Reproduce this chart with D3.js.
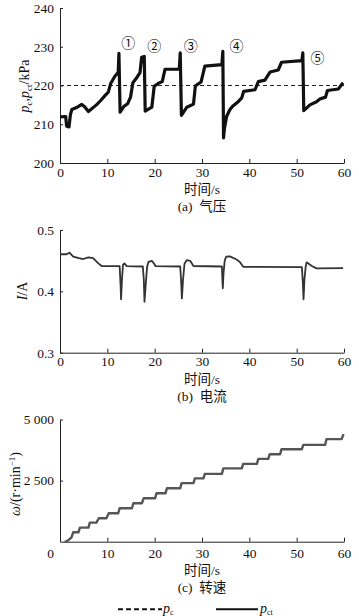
<!DOCTYPE html>
<html><head><meta charset="utf-8">
<script src="https://cdn.jsdelivr.net/npm/d3@7"></script>
<style>
body{margin:0;background:#fff}
svg text{font-family:"Liberation Serif","Noto Sans CJK SC",serif;fill:#111}
.axis path,.axis line{stroke:#222;stroke-width:1}
</style></head><body>
<svg id="chart" width="359" height="616"></svg>
<script>
// ---------------- data ----------------
const timeTicks = [0, 10, 20, 30, 40, 50, 60];
const pressureTicks = [200, 210, 220, 230, 240];
const currentTicks = [0.3, 0.4, 0.5];
const speedTicks = [2500, 5000];
const pressureRef = 220; // p_c set point (dashed)

// p_ct (kPa) vs time (s)
const pressure = [
  [0,211.9],[1.2,212],[1.4,209.5],[1.9,209.3],[2.2,212.5],[2.5,213.8],[3.5,214.3],[4.6,215.1],
  [5.2,214.5],[6.0,213.3],[6.7,214],[7.7,215],[8.5,216],[9.5,217.4],[10.2,218.3],[10.7,220.5],
  [11.6,222.4],[12.3,223.4],[12.45,228.3],[12.7,213.1],[13.5,214.6],[14.3,215.3],[14.9,217.0],
  [15.4,220.7],[16.2,222],[16.9,223.3],[17.25,227.3],[17.8,227.5],[18.0,213.4],[19.4,214.4],
  [19.9,219.8],[20.8,220.6],[21.6,221],[22.2,224.2],[25.2,224.2],[25.4,228.4],[25.65,212.3],
  [26.8,214.4],[28.2,215.2],[28.6,219.9],[29.8,220.9],[30.6,225],[34.2,225.4],[34.4,228.8],
  [34.55,206.5],[34.75,209],[35.2,212],[35.9,213.8],[36.6,214.8],[37.7,215.9],[38.4,216.8],
  [38.8,218.5],[41.2,218.9],[41.9,221],[43.3,221.4],[44.4,223.5],[46.1,224],[46.8,226],
  [51.1,226.4],[51.3,228.4],[51.5,213.5],[52.8,215],[54.2,215.8],[54.9,216.5],[56.1,217],
  [56.5,218.7],[58.8,219.1],[59.8,220.7]
];

// I (A) vs time (s)
const current = [
  [0,0.4605],[1.4,0.4605],[2.0,0.463],[2.8,0.4565],[4.0,0.454],[4.9,0.4527],[6.0,0.4555],
  [7.0,0.454],[8.1,0.4456],[8.8,0.4413],[12.6,0.441],[12.8,0.41],[12.9,0.387],[13.1,0.42],
  [13.3,0.443],[13.6,0.4455],[14.1,0.441],[17.5,0.4405],[17.7,0.42],[17.85,0.383],[18.1,0.41],
  [18.4,0.44],[18.7,0.448],[19.4,0.4497],[19.9,0.445],[20.2,0.441],[25.4,0.4405],[25.6,0.415],
  [25.75,0.3886],[26.0,0.42],[26.3,0.445],[26.8,0.451],[27.5,0.4497],[28.2,0.4413],[34.2,0.4405],
  [34.3,0.42],[34.4,0.405],[34.55,0.43],[34.8,0.45],[35.1,0.4565],[35.9,0.457],[37.3,0.452],
  [38.0,0.448],[38.7,0.44],[51.1,0.4395],[51.3,0.415],[51.45,0.387],[51.65,0.42],[51.9,0.44],
  [52.1,0.4473],[53.2,0.4413],[54.2,0.4375],[59.8,0.438]
];

// speed (r/min) vs time (s)
const speed = [
  [1.0,0],[1.5,20],[2.4,170],[2.8,385],[3.9,385],[4.2,575],[6.0,575],[6.3,780],[7.7,780],
  [8.2,960],[9.8,960],[10.3,1165],[12.3,1165],[12.6,1370],[15.2,1370],[15.5,1575],[17.3,1575],
  [17.7,1780],[20.1,1780],[20.4,1985],[22.3,1985],[22.6,2190],[25.4,2190],[25.7,2395],
  [28.2,2395],[28.5,2590],[30.3,2590],[30.6,2775],[34.2,2775],[34.5,3000],[38.4,3000],
  [38.7,3185],[41.6,3185],[41.9,3390],[44.0,3390],[44.3,3580],[46.5,3580],[46.8,3785],
  [51.1,3785],[51.4,3960],[56.0,3960],[56.3,4195],[59.5,4195],[59.9,4400]
];

// circled event markers (time s, pressure kPa)
const markerLabels = ["①","②","③","④","⑤"];
const markerTimes = [14.4, 19.9, 27.6, 37.3, 54.4];
const markerValues = [231.1, 230.5, 230.5, 230.5, 227.4];

// ---------------- drawing ----------------
const svg = d3.select("#chart");
const x = d3.scaleLinear().domain([0, 60]).range([60, 344]);
const cx = 202;

function panel(y, yTicks, yFmt, xPad, opts) {
  const g = svg.append("g");
  const xa = g.append("g").attr("class","axis")
    .attr("transform", `translate(0,${y.range()[0]})`)
    .call(d3.axisBottom(x).tickValues(timeTicks).tickSizeInner(-4).tickSizeOuter(0).tickPadding(xPad));
  const ya = g.append("g").attr("class","axis")
    .attr("transform", `translate(60,0)`)
    .call(d3.axisLeft(y).tickValues(yTicks).tickFormat(yFmt).tickSizeInner(-3).tickSizeOuter(0).tickPadding(6));
  g.selectAll(".axis").attr("font-family", null);
  g.selectAll(".axis text").attr("font-size", 13.5).attr("fill", "#111")
    .style("font-family", '"Liberation Serif",serif');
  if (opts && opts.shiftZero) xa.selectAll(".tick").filter(d => d === 0).select("text").attr("dx", -10);
  return g;
}

function titles(yAxisBase, sub) {
  svg.append("text").attr("x", cx).attr("y", yAxisBase).attr("text-anchor","middle")
    .attr("font-size", 13.5).text("时间/s");
  svg.append("text").attr("x", cx).attr("y", yAxisBase + 17).attr("text-anchor","middle")
    .attr("font-size", 13.5).text(sub);
}

// (a) pressure
const yA = d3.scaleLinear().domain([200, 240]).range([163, 8]);
panel(yA, pressureTicks, d3.format("d"), 4.5);
svg.append("line").attr("x1", x(0)).attr("x2", x(60)).attr("y1", yA(pressureRef)).attr("y2", yA(pressureRef))
  .attr("stroke", "#222").attr("stroke-width", 1.2).attr("stroke-dasharray", "4,3");
svg.append("path").datum(pressure)
  .attr("d", d3.line().x(d => x(d[0])).y(d => yA(d[1])))
  .attr("fill","none").attr("stroke","#111").attr("stroke-width",3.2).attr("stroke-linejoin","round");
svg.selectAll(".marker").data(markerLabels).join("text").attr("class","marker")
  .attr("x", (d,i) => x(markerTimes[i])).attr("y", (d,i) => yA(markerValues[i]))
  .attr("text-anchor","middle").attr("dominant-baseline","central")
  .attr("font-size", 14).style("font-family",'"Noto Sans CJK SC",sans-serif').text(d => d);
titles(194, "(a)\u2002气压");
// y label (a)
const ta = svg.append("text").attr("transform","translate(29,86) rotate(-90)").attr("text-anchor","middle").attr("font-size",14);
ta.append("tspan").attr("font-style","italic").text("p");
ta.append("tspan").attr("font-size",9).attr("dy",3).text("c");
ta.append("tspan").attr("dy",-3).text(",");
ta.append("tspan").attr("font-style","italic").text("p");
ta.append("tspan").attr("font-size",9).attr("dy",3).text("ct");
ta.append("tspan").attr("dy",-3).text("/kPa");

// (b) current
const yB = d3.scaleLinear().domain([0.3, 0.5]).range([352.7, 230]);
panel(yB, currentTicks, d3.format(".1f"), 3.5);
svg.append("path").datum(current)
  .attr("d", d3.line().x(d => x(d[0])).y(d => yB(d[1])))
  .attr("fill","none").attr("stroke","#333").attr("stroke-width",1.8).attr("stroke-linejoin","round");
titles(384, "(b)\u2002电流");
const tb = svg.append("text").attr("transform","translate(27,291) rotate(-90)").attr("text-anchor","middle").attr("font-size",14);
tb.append("tspan").attr("font-style","italic").text("I");
tb.append("tspan").text("/A");

// (c) speed
const yC = d3.scaleLinear().domain([0, 5000]).range([541.7, 419.5]);
panel(yC, speedTicks, d => d3.format(",")(d).replace(",", "\u00a0"), 6.5, {shiftZero:true});
svg.append("path").datum(speed)
  .attr("d", d3.line().x(d => x(d[0])).y(d => yC(d[1])))
  .attr("fill","none").attr("stroke","#555").attr("stroke-width",2.4).attr("stroke-linejoin","round");
titles(575, "(c)\u2002转速");
const tc = svg.append("text").attr("transform","translate(20,484) rotate(-90)").attr("text-anchor","middle").attr("font-size",14);
tc.append("tspan").attr("font-style","italic").text("ω");
tc.append("tspan").text("/(r\u00b7min");
tc.append("tspan").attr("font-size",9).attr("dy",-5).text("\u22121");
tc.append("tspan").attr("dy",5).text(")");

// legend
const ly = 609.3;
svg.append("line").attr("x1",118).attr("x2",162).attr("y1",ly).attr("y2",ly)
  .attr("stroke","#111").attr("stroke-width",2).attr("stroke-dasharray","5,3");
const l1 = svg.append("text").attr("x",163).attr("y",613).attr("font-size",14);
l1.append("tspan").attr("font-style","italic").text("p");
l1.append("tspan").attr("font-size",8).attr("dy",2).text("c");
svg.append("line").attr("x1",216).attr("x2",258).attr("y1",ly).attr("y2",ly)
  .attr("stroke","#111").attr("stroke-width",2);
const l2 = svg.append("text").attr("x",260).attr("y",613).attr("font-size",14);
l2.append("tspan").attr("font-style","italic").text("p");
l2.append("tspan").attr("font-size",8).attr("dy",2).text("ct");
</script>
</body></html>
